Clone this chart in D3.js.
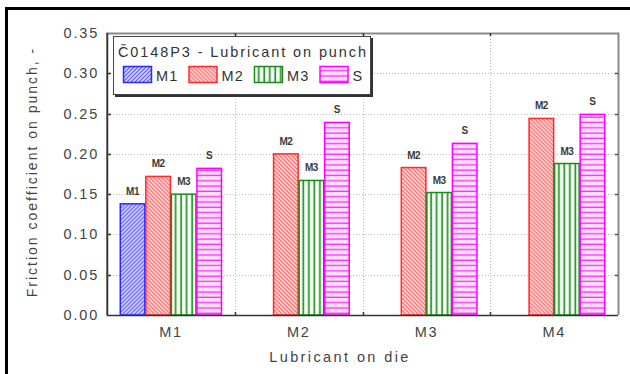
<!DOCTYPE html>
<html>
<head>
<meta charset="utf-8">
<script src="https://cdn.jsdelivr.net/npm/d3@7"></script>
<style>
  body { margin: 0; background: #fff; }
  text { font-family: "Liberation Sans", Arial, sans-serif; }
</style>
</head>
<body>
<div id="chart"></div>
<script>
// data
var categories = ["M1", "M2", "M3", "M4"];
var series = ["M1", "M2", "M3", "S"];
var m1Values = [0.138, null, null, null];
var m2Values = [0.172, 0.200, 0.183, 0.244];
var m3Values = [0.150, 0.167, 0.152, 0.188];
var sValues = [0.182, 0.239, 0.213, 0.249];
var yTicks = [0, 0.05, 0.10, 0.15, 0.20, 0.25, 0.30, 0.35];
var legendTitle = "Č0148P3 - Lubricant on punch";

var seriesValues = { "M1": m1Values, "M2": m2Values, "M3": m3Values, "S": sValues };
var seriesStroke = { "M1": "#2a2aff", "M2": "#ff2a2a", "M3": "#1a8a1a", "S": "#ff00ff" };

var W = 630, H = 374;
var margin = {top: 33, right: 12, bottom: 59, left: 107};
var width = W - margin.left - margin.right;
var height = H - margin.top - margin.bottom;

var svg = d3.select("#chart").append("svg")
    .attr("width", W)
    .attr("height", H);

// hatch patterns
var defs = svg.append("defs");
var p1 = defs.append("pattern").attr("id", "pM1").attr("patternUnits", "userSpaceOnUse")
    .attr("width", 4).attr("height", 4);
p1.append("rect").attr("width", 4).attr("height", 4).attr("fill", "#d2d2ff");
p1.append("path").attr("d", "M-1,1 l2,-2 M0,4 l4,-4 M3,5 l2,-2")
    .attr("stroke", "#5a5aff").attr("stroke-width", 1.1);
var p2 = defs.append("pattern").attr("id", "pM2").attr("patternUnits", "userSpaceOnUse")
    .attr("width", 4).attr("height", 4);
p2.append("rect").attr("width", 4).attr("height", 4).attr("fill", "#ffd8d8");
p2.append("path").attr("d", "M-1,3 l2,2 M0,0 l4,4 M3,-1 l2,2")
    .attr("stroke", "#ff6060").attr("stroke-width", 1.1);
var p3 = defs.append("pattern").attr("id", "pM3").attr("patternUnits", "userSpaceOnUse")
    .attr("width", 5.5).attr("height", 10);
p3.append("rect").attr("width", 5.5).attr("height", 10).attr("fill", "#d6f2d6");
p3.append("rect").attr("x", 1).attr("width", 2).attr("height", 10).attr("fill", "#ffffff");
p3.append("rect").attr("x", 4).attr("width", 1.5).attr("height", 10).attr("fill", "#2a922a");
var p4 = defs.append("pattern").attr("id", "pS").attr("patternUnits", "userSpaceOnUse")
    .attr("width", 10).attr("height", 5.3);
p4.append("rect").attr("width", 10).attr("height", 5.3).attr("fill", "#ffe0ff");
p4.append("rect").attr("y", 4).attr("width", 10).attr("height", 1.3).attr("fill", "#ff2aff");

// outer frame
svg.append("path")
    .attr("d", "M6.5," + H + " V8.5 H" + W)
    .attr("fill", "none").attr("stroke", "#000").attr("stroke-width", 3);

var g = svg.append("g")
    .attr("transform", "translate(" + margin.left + "," + margin.top + ")");

var x0 = d3.scaleBand().domain(categories).range([0, width]);
var x1 = d3.scaleBand().domain(series).range([0, x0.bandwidth()]).paddingOuter(0.5);
var y = d3.scaleLinear().domain([0, 0.35]).range([height, 0]);

// grid
g.append("g").selectAll("line").data(yTicks.slice(1, -1)).enter().append("line")
    .attr("x1", 0).attr("x2", width)
    .attr("y1", function(d) { return Math.round(y(d)) + 0.5; })
    .attr("y2", function(d) { return Math.round(y(d)) + 0.5; })
    .attr("stroke", "#b8b8b8").attr("stroke-dasharray", "1,2");
g.append("g").selectAll("line").data(categories.slice(1)).enter().append("line")
    .attr("x1", function(d) { return Math.round(x0(d)) + 0.5; })
    .attr("x2", function(d) { return Math.round(x0(d)) + 0.5; })
    .attr("y1", 0).attr("y2", height)
    .attr("stroke", "#b8b8b8").attr("stroke-dasharray", "1,2");

// bars
var rows = [];
categories.forEach(function(c, i) {
  series.forEach(function(s) {
    if (seriesValues[s][i] != null) rows.push({cat: c, key: s, value: seriesValues[s][i]});
  });
});

var bars = g.append("g").selectAll("g").data(rows).enter().append("g")
    .attr("transform", function(d) { return "translate(" + (x0(d.cat) + x1(d.key)) + ",0)"; });
bars.append("rect")
    .attr("x", 0.5)
    .attr("y", function(d) { return y(d.value); })
    .attr("width", x1.bandwidth() - 1)
    .attr("height", function(d) { return height - y(d.value); })
    .attr("fill", function(d) { return "url(#p" + d.key + ")"; })
    .attr("stroke", function(d) { return seriesStroke[d.key]; })
    .attr("stroke-width", 1.5);
bars.append("text")
    .attr("x", x1.bandwidth() / 2)
    .attr("y", function(d) { return y(d.value) - 9; })
    .attr("text-anchor", "middle")
    .attr("font-size", 10)
    .attr("font-weight", "bold")
    .attr("letter-spacing", -0.5)
    .attr("fill", "#3a3a3a")
    .text(function(d) { return d.key; });

// frame: top/right grey, left/bottom dark
g.append("path")
    .attr("d", "M0," + height + " V0.5 H" + (width + 0.5) + " V" + height)
    .attr("fill", "none").attr("stroke", "#8a8a8a").attr("stroke-width", 2);
g.append("path")
    .attr("d", "M0.5,0 V" + (height + 0.5) + " H" + width)
    .attr("fill", "none").attr("stroke", "#333").attr("stroke-width", 1.5);

// ticks inside
g.append("g").selectAll("line").data(yTicks.slice(1, -1)).enter().append("line")
    .attr("x1", 0).attr("x2", 4)
    .attr("y1", function(d) { return Math.round(y(d)) + 0.5; })
    .attr("y2", function(d) { return Math.round(y(d)) + 0.5; })
    .attr("stroke", "#333").attr("stroke-width", 1.5);
g.append("g").selectAll("line").data(yTicks.slice(1, -1)).enter().append("line")
    .attr("x1", width - 3).attr("x2", width)
    .attr("y1", function(d) { return Math.round(y(d)) + 0.5; })
    .attr("y2", function(d) { return Math.round(y(d)) + 0.5; })
    .attr("stroke", "#555").attr("stroke-width", 1.5);
g.append("g").selectAll("line").data(categories.slice(1)).enter().append("line")
    .attr("x1", function(d) { return Math.round(x0(d)) + 0.5; })
    .attr("x2", function(d) { return Math.round(x0(d)) + 0.5; })
    .attr("y1", height - 3).attr("y2", height)
    .attr("stroke", "#333").attr("stroke-width", 1.5);
g.append("g").selectAll("line").data(categories.slice(1)).enter().append("line")
    .attr("x1", function(d) { return Math.round(x0(d)) + 0.5; })
    .attr("x2", function(d) { return Math.round(x0(d)) + 0.5; })
    .attr("y1", 0).attr("y2", 3)
    .attr("stroke", "#333").attr("stroke-width", 1.5);

// tick labels
g.append("g").selectAll("text").data(yTicks).enter().append("text")
    .attr("x", -8)
    .attr("y", function(d) { return y(d) + 5; })
    .attr("text-anchor", "end")
    .attr("font-size", 14.5)
    .attr("letter-spacing", 1.8)
    .attr("fill", "#444")
    .text(function(d) { return d3.format(".2f")(d); });
g.append("g").selectAll("text").data(categories).enter().append("text")
    .attr("x", function(d) { return x0(d) + x0.bandwidth() / 2; })
    .attr("y", height + 22)
    .attr("text-anchor", "middle")
    .attr("font-size", 14.5)
    .attr("letter-spacing", 1.5)
    .attr("fill", "#444")
    .text(function(d) { return d; });

// axis titles
svg.append("text")
    .attr("x", 340)
    .attr("y", 362)
    .attr("text-anchor", "middle")
    .attr("font-size", 14.5)
    .attr("letter-spacing", 2.4)
    .attr("fill", "#444")
    .text("Lubricant on die");
svg.append("text")
    .attr("transform", "translate(37," + (margin.top + height / 2 - 2) + ") rotate(-90)")
    .attr("text-anchor", "middle")
    .attr("font-size", 14)
    .attr("letter-spacing", 2)
    .attr("fill", "#444")
    .text("Friction coefficient on punch, -");

// legend
var lg = svg.append("g").attr("transform", "translate(113,36)");
lg.append("rect").attr("x", 2).attr("y", 2).attr("width", 258).attr("height", 59).attr("fill", "#333");
lg.append("rect").attr("x", 0.5).attr("y", 0.5).attr("width", 257).attr("height", 58)
    .attr("fill", "#fff").attr("stroke", "#444").attr("stroke-width", 1);
lg.append("text").attr("x", 5).attr("y", 21)
    .attr("font-size", 14.5).attr("letter-spacing", 1.9).attr("fill", "#333")
    .text(legendTitle);
var items = lg.selectAll("g.item").data(series).enter().append("g")
    .attr("class", "item")
    .attr("transform", function(d, i) { return "translate(" + (10 + i * 65.5) + ",30)"; });
items.append("rect")
    .attr("x", 0.5).attr("y", 0.5).attr("width", 28).attr("height", 16)
    .attr("fill", function(d) { return "url(#p" + d + ")"; })
    .attr("stroke", function(d) { return seriesStroke[d]; })
    .attr("stroke-width", 1.5);
items.append("text")
    .attr("x", 33).attr("y", 15)
    .attr("font-size", 14.5).attr("letter-spacing", 1.2).attr("fill", "#333")
    .text(function(d) { return d; });
</script>
</body>
</html>
